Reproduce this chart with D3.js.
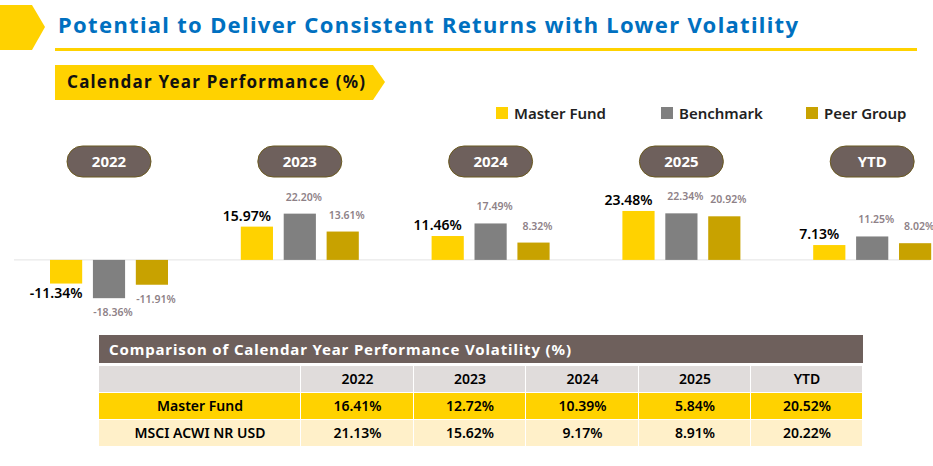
<!DOCTYPE html>
<html>
<head>
<meta charset="utf-8">
<script src="https://d3js.org/d3.v7.min.js"></script>
<style>
body { margin:0; background:#fff; }
text { font-family: "Noto Sans", sans-serif; }
</style>
</head>
<body>
<div id="chart"></div>
<script>
var periods = ["2022", "2023", "2024", "2025", "YTD"];
var seriesNames = ["Master Fund", "Benchmark", "Peer Group"];
var masterFund = [-11.34, 15.97, 11.46, 23.48, 7.13];
var benchmark = [-18.36, 22.20, 17.49, 22.34, 11.25];
var peerGroup = [-11.91, 13.61, 8.32, 20.92, 8.02];
var colors = ["#FFD200", "#808080", "#C8A200"];
var tableCols = ["", "2022", "2023", "2024", "2025", "YTD"];
var rowNames = ["Master Fund", "MSCI ACWI NR USD"];
var volMaster = ["16.41%", "12.72%", "10.39%", "5.84%", "20.52%"];
var volMsci = ["21.13%", "15.62%", "9.17%", "8.91%", "20.22%"];

var W = 933, H = 466;
var svg = d3.select("#chart").append("svg").attr("width", W).attr("height", H);

// header
svg.append("path").attr("d", "M0,5 L32,5 L45,27 L32,50 L0,50 Z").attr("fill", "#FFD200");
svg.append("text").attr("x", 58).attr("y", 33).attr("fill", "#0070C0")
  .attr("font-size", 22).attr("font-weight", "bold").attr("textLength", 740)
  .text("Potential to Deliver Consistent Returns with Lower Volatility");
svg.append("rect").attr("x", 55).attr("y", 48).attr("width", 862).attr("height", 3).attr("fill", "#FFD200");
svg.append("path").attr("d", "M55,65 L373,65 L385,82 L373,100 L55,100 Z").attr("fill", "#FFD200");
svg.append("text").attr("x", 67).attr("y", 88).attr("font-size", 17).attr("font-weight", "bold")
  .attr("fill", "#111").attr("textLength", 298).text("Calendar Year Performance (%)");

// legend
var legX = [496, 661, 806];
seriesNames.forEach(function(n, i) {
  svg.append("rect").attr("x", legX[i]).attr("y", 107).attr("width", 12).attr("height", 12).attr("fill", colors[i]);
  svg.append("text").attr("x", legX[i] + 18).attr("y", 119).attr("font-size", 15).attr("font-weight", 600)
    .attr("fill", "#222").text(n);
});

// bars
var x0 = d3.scaleBand().domain(periods).range([14, 968]);
var x1 = d3.scaleBand().domain(seriesNames).range([36, 154]).paddingInner(0.25);
var y = d3.scaleLinear().domain([-20, 25]).range([301.6, 207.8]);

svg.append("line").attr("x1", 14).attr("x2", 930).attr("y1", y(0)).attr("y2", y(0))
  .attr("stroke", "#E3E3E3").attr("stroke-width", 1);

var allSeries = [masterFund, benchmark, peerGroup];
periods.forEach(function(p, pi) {
  var gx = x0(p);
  var cx = gx + x1(seriesNames[1]) + x1.bandwidth() / 2;
  svg.append("rect").attr("x", cx - 42).attr("y", 146).attr("width", 84).attr("height", 31)
    .attr("rx", 15.5).attr("fill", "#6E605C").attr("stroke", "#6B5A20").attr("stroke-width", 1);
  svg.append("text").attr("x", cx).attr("y", 167).attr("text-anchor", "middle").attr("fill", "#fff")
    .attr("font-size", 15).attr("font-weight", "bold").text(p);
  allSeries.forEach(function(s, si) {
    var v = s[pi], bx = gx + x1(seriesNames[si]), bw = x1.bandwidth();
    svg.append("rect").attr("x", bx).attr("width", bw)
      .attr("y", y(Math.max(0, v))).attr("height", Math.abs(y(v) - y(0))).attr("fill", colors[si]);
    var lbl = v.toFixed(2) + "%";
    var ly = v >= 0 ? y(v) - 6 : y(v) + (si == 0 ? 14 : 18);
    if (si == 0) {
      svg.append("text").attr("x", bx + bw / 2 - 10).attr("y", ly).attr("text-anchor", "middle")
        .attr("font-size", 14).attr("font-weight", 600).attr("fill", "#000").text(lbl);
    } else {
      svg.append("text").attr("x", bx + bw / 2 + 4).attr("y", v >= 0 ? ly - 7 : ly).attr("text-anchor", "middle")
        .attr("font-size", 10.5).attr("font-weight", 600).attr("fill", "#8E8187").text(lbl);
    }
  });
});

// table
var colEdges = [99, 301, 414, 526, 639, 751, 863];
svg.append("rect").attr("x", 99).attr("y", 335).attr("width", 764).attr("height", 28).attr("fill", "#6E605C");
svg.append("text").attr("x", 109).attr("y", 355).attr("fill", "#fff").attr("font-size", 15).attr("font-weight", "bold")
  .attr("textLength", 462).text("Comparison of Calendar Year Performance Volatility (%)");
var rows = [
  { y: 366, fill: "#E0DCDB", cells: tableCols },
  { y: 393, fill: "#FFD200", cells: [rowNames[0]].concat(volMaster) },
  { y: 420, fill: "#FFF0C9", cells: [rowNames[1]].concat(volMsci) }
];
rows.forEach(function(r) {
  r.cells.forEach(function(c, ci) {
    var x = colEdges[ci], w = colEdges[ci + 1] - x;
    svg.append("rect").attr("x", x).attr("y", r.y).attr("width", w - 1).attr("height", 26).attr("fill", r.fill);
    svg.append("text").attr("x", x + w / 2).attr("y", r.y + 18).attr("text-anchor", "middle")
      .attr("font-size", 14).attr("font-weight", 600).attr("fill", "#000").text(c);
  });
});
</script>
</body>
</html>
